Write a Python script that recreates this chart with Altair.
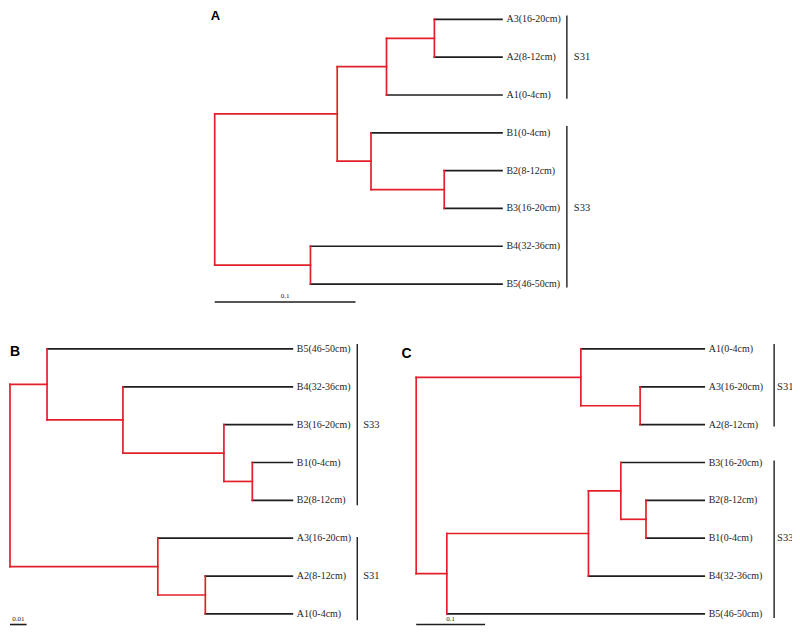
import altair as alt
import pandas as pd

RED = "#e3202a"
BLACK = "#1e1e1e"
SERIF = "Liberation Serif"
SANS = "Liberation Sans"

# ---------------- Panel A ----------------
a_leaves = ["A3(16-20cm)", "A2(8-12cm)", "A1(0-4cm)", "B1(0-4cm)",
            "B2(8-12cm)", "B3(16-20cm)", "B4(32-36cm)", "B5(46-50cm)"]
a_left = ["A3(16-20cm)", "m0", "B2(8-12cm)", "B1(0-4cm)", "m1", "B4(32-36cm)", "m4"]
a_right = ["A2(8-12cm)", "A1(0-4cm)", "B3(16-20cm)", "m2", "m3", "B5(46-50cm)", "m5"]
a_height = [0.048, 0.082, 0.041, 0.093, 0.117, 0.136, 0.204]
a_groups = ["S31", "S33"]
a_group_first = [0, 3]
a_group_last = [2, 7]
a_bracket_top = [-0.10, 2.82]
a_bracket_bottom = [2.10, 7.09]
a_scale_len = 0.1
a_scale_label = "0.1"

# ---------------- Panel B ----------------
b_leaves = ["B5(46-50cm)", "B4(32-36cm)", "B3(16-20cm)", "B1(0-4cm)",
            "B2(8-12cm)", "A3(16-20cm)", "A2(8-12cm)", "A1(0-4cm)"]
b_left = ["B1(0-4cm)", "B3(16-20cm)", "B4(32-36cm)", "B5(46-50cm)", "A2(8-12cm)", "A3(16-20cm)", "m3"]
b_right = ["B2(8-12cm)", "m0", "m1", "m2", "A1(0-4cm)", "m4", "m5"]
b_height = [0.0241, 0.0412, 0.102, 0.1477, 0.0524, 0.081, 0.170]
b_groups = ["S33", "S31"]
b_group_first = [0, 5]
b_group_last = [4, 7]
b_bracket_top = [-0.13, 4.97]
b_bracket_bottom = [4.13, 7.17]
b_scale_len = 0.01
b_scale_label = "0.01"

# ---------------- Panel C ----------------
c_leaves = ["A1(0-4cm)", "A3(16-20cm)", "A2(8-12cm)", "B3(16-20cm)",
            "B2(8-12cm)", "B1(0-4cm)", "B4(32-36cm)", "B5(46-50cm)"]
c_left = ["A3(16-20cm)", "A1(0-4cm)", "B2(8-12cm)", "B3(16-20cm)", "m3", "m4", "m1"]
c_right = ["A2(8-12cm)", "m0", "B1(0-4cm)", "m2", "B4(32-36cm)", "B5(46-50cm)", "m5"]
c_height = [0.093, 0.179, 0.0845, 0.121, 0.168, 0.3735, 0.418]
c_groups = ["S31", "S33"]
c_group_first = [0, 3]
c_group_last = [2, 7]
c_bracket_top = [-0.13, 2.95]
c_bracket_bottom = [2.05, 7.11]
c_scale_len = 0.1
c_scale_label = "0.1"


def tree_segments(leaves, left, right, height):
    total = height[-1]
    pos = {name: (total, float(i)) for i, name in enumerate(leaves)}
    rows = []
    for k, (l, r, h) in enumerate(zip(left, right, height)):
        x = total - h
        xl, yl = pos[l]
        xr, yr = pos[r]
        rows.append(dict(x=x, x2=x, y=yl, y2=yr, kind="internal"))
        rows.append(dict(x=x, x2=xl, y=yl, y2=yl, kind="leaf" if l in leaves else "internal"))
        rows.append(dict(x=x, x2=xr, y=yr, y2=yr, kind="leaf" if r in leaves else "internal"))
        pos[f"m{k}"] = (x, (yl + yr) / 2)
    return pd.DataFrame(rows), total


def panel(letter, leaves, left, right, height, groups, gfirst, glast, btop, bbot,
          scale_len, scale_label, width, plot_h, xdom, ydom, bar_y,
          br_off, lab_dx, t_dx, t_off, t_size):
    seg, total = tree_segments(leaves, left, right, height)
    xs = alt.Scale(domain=xdom, nice=False, zero=False)
    ys = alt.Scale(domain=ydom, nice=False, zero=False, reverse=True)

    def X(f="x"):
        return alt.X(f"{f}:Q", scale=xs, axis=None)

    def Y(f="y"):
        return alt.Y(f"{f}:Q", scale=ys, axis=None)

    col = alt.Color("kind:N", scale=alt.Scale(domain=["internal", "leaf"], range=[RED, BLACK]), legend=None)

    black_seg = alt.Chart(seg[seg.kind == "leaf"]).mark_rule(strokeWidth=1.7, strokeCap="square").encode(
        x=X(), x2="x2:Q", y=Y(), y2="y2:Q", color=col)
    red_seg = alt.Chart(seg[seg.kind == "internal"]).mark_rule(strokeWidth=1.7, strokeCap="square").encode(
        x=X(), x2="x2:Q", y=Y(), y2="y2:Q", color=col)

    leaf_df = pd.DataFrame({"x": [total] * len(leaves), "y": list(range(len(leaves))), "label": leaves})
    leaf_txt = alt.Chart(leaf_df).mark_text(align="left", baseline="middle", dx=4.5, font=SERIF,
                                            fontSize=10, color=BLACK, clip=True).encode(
        x=X(), y=Y(), text="label:N")

    br_df = pd.DataFrame({"x": [total] * len(groups), "y": btop, "y2": bbot,
                          "ym": [(a + b) / 2 for a, b in zip(gfirst, glast)], "g": groups})
    br_rule = alt.Chart(br_df).mark_rule(strokeWidth=1.4, color=BLACK, xOffset=br_off).encode(
        x=X(), y=Y(), y2="y2:Q")
    br_txt = alt.Chart(br_df).mark_text(align="left", baseline="middle", dx=lab_dx, font=SERIF,
                                        fontSize=10.5, color=BLACK, clip=True).encode(
        x=X(), y=Y("ym"), text="g:N")

    sb_df = pd.DataFrame({"x": [0.0], "x2": [scale_len], "xm": [scale_len / 2], "y": [bar_y], "t": [scale_label]})
    sb_rule = alt.Chart(sb_df).mark_rule(strokeWidth=1.6, color=BLACK).encode(
        x=X(), x2="x2:Q", y=Y(), y2="y:Q")
    sb_txt = alt.Chart(sb_df).mark_text(align="center", baseline="bottom", dy=-3, font=SERIF,
                                        fontSize=7, color=BLACK).encode(
        x=X("xm"), y=Y(), text="t:N")

    return alt.layer(black_seg, red_seg, leaf_txt, br_rule, br_txt, sb_rule, sb_txt).properties(
        width=width, height=plot_h,
        title=alt.TitleParams(letter, anchor="start", frame="group", orient="top", baseline="top",
                              offset=t_off, dx=t_dx, font=SANS, fontSize=t_size,
                              fontWeight="bold", color="black"))


pA = panel("A", a_leaves, a_left, a_right, a_height, a_groups, a_group_first, a_group_last,
           a_bracket_top, a_bracket_bottom, a_scale_len, a_scale_label,
           592, 302, [-0.1461, 0.2738], [-0.2905, 7.686], 7.475, 65, 72, 202, -15, 13)
pB = panel("B", b_leaves, b_left, b_right, b_height, b_groups, b_group_first, b_group_last,
           b_bracket_top, b_bracket_bottom, b_scale_len, b_scale_label,
           392, 289, [-0.000601, 0.23512], [-0.2902, 7.335], 7.28, 65, 71, 1, -21, 14)
pC = panel("C", c_leaves, c_left, c_right, c_height, c_groups, c_group_first, c_group_last,
           c_bracket_top, c_bracket_bottom, c_scale_len, c_scale_label,
           392, 289, [-0.02275, 0.5454], [-0.2902, 7.335], 7.28, 70, 73, 1, -23, 14)

chart = alt.vconcat(
    pA,
    alt.hconcat(pB, pC, spacing=0, bounds="flush"),
    spacing=28, bounds="flush"
).properties(padding=0).configure_view(stroke=None)

chart.save("out.html", embed_options={"renderer": "svg", "actions": False})
